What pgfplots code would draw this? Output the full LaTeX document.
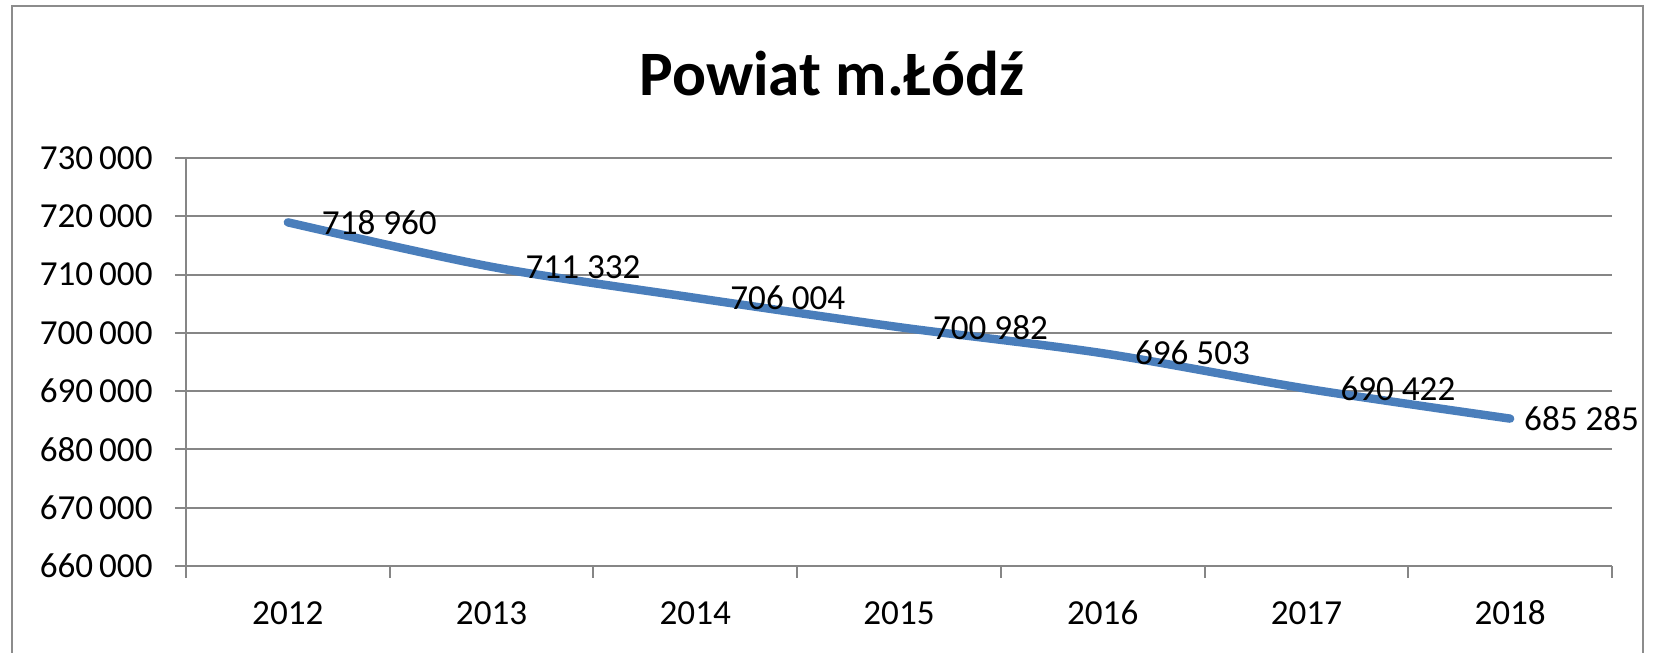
\documentclass[border=0pt]{standalone}
\usepackage{pgfplots}
\pgfplotsset{compat=1.18}
\usepackage{fontspec}
\setmainfont{Carlito}
\definecolor{serieblue}{HTML}{4A7EBB}
\definecolor{gridgray}{HTML}{868686}
\definecolor{framegray}{HTML}{8C8C8C}
\pgfplotstableread{
x year value dx
0 2012 718960 8.5
1 2013 711332 8.5
2 2014 706004 8.8
3 2015 700982 8.5
4 2016 696503 8.0
5 2017 690422 8.5
6 2018 685285 2.8
}\datatable
\begin{document}
\begin{tikzpicture}
\useasboundingbox (0,0) rectangle (16.53,6.53);
\draw[framegray, line width=0.8pt] (0.12,-0.2) rectangle (16.43,6.47);
\node[anchor=base, font=\fontsize{18}{21}\selectfont\bfseries] at (8.32,5.57) {Powiat m.Łódź};
\begin{axis}[
  at={(1.86cm,0.87cm)}, anchor=south west,
  scale only axis,
  width=14.26cm, height=4.08cm,
  xmin=-0.5, xmax=6.5,
  ymin=660000, ymax=730000,
  ytick={660000,670000,...,730000},
  scaled y ticks=false,
  /pgf/number format/assume math mode=true,
  yticklabel={\pgfmathprintnumber[fixed,precision=0,1000 sep={\,}]{\tick}},
  xtick={0,...,6},
  xticklabels={2012,2013,2014,2015,2016,2017,2018},
  minor xtick={-0.5,0.5,...,6.5},
  major x tick style={draw=none},
  minor x tick style={draw=gridgray, line width=0.6pt},
  y tick style={draw=gridgray, line width=0.6pt},
  major tick length=0.11cm,
  minor tick length=0.12cm,
  tick align=outside,
  xtick pos=bottom, ytick pos=left,
  ymajorgrids,
  grid style={gridgray, line width=0.6pt},
  axis x line*=bottom,
  axis y line*=left,
  axis line style={gridgray, line width=0.6pt, -},
  tick label style={font=\fontsize{10}{12}\selectfont, text=black},
  yticklabel style={xshift=-0.10cm},
  xticklabel style={anchor=center, yshift=-0.36cm},
  clip=false,
  visualization depends on={\thisrow{dx}\as\dx},
  nodes near coords={\pgfmathprintnumber[fixed,precision=0,1000 sep={\ }]{\pgfplotspointmeta}},
  nodes near coords style={anchor=west, inner sep=0pt, xshift=\dx pt, font=\fontsize{10}{12}\selectfont, text=black},
]
\addplot[serieblue, line width=2.4pt, line cap=round, line join=round, smooth, mark=none] table[x=x, y=value] {\datatable};
\end{axis}
\end{tikzpicture}
\end{document}
